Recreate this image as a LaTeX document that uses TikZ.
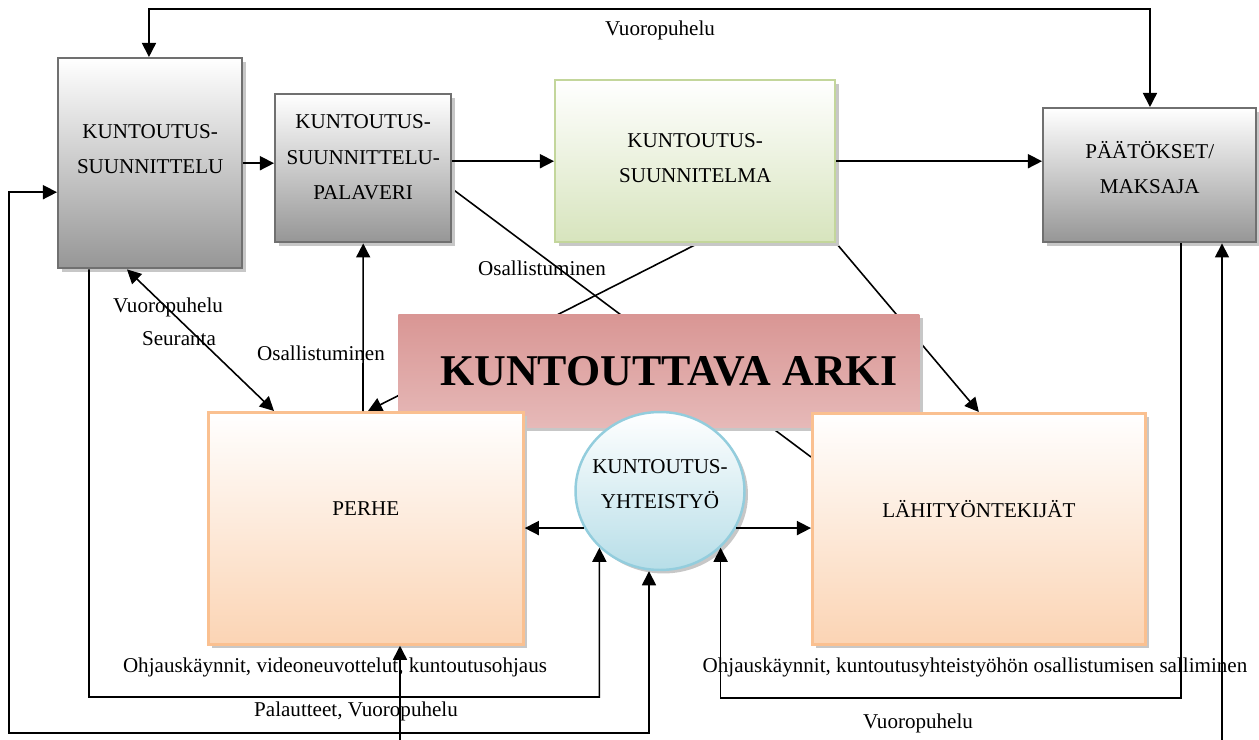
\documentclass[tikz,border=0pt]{standalone}
\usepackage{fontspec}
\setmainfont{Liberation Serif}
\usetikzlibrary{arrows.meta,shapes.geometric,shadows,backgrounds}

\definecolor{grayEdge}{HTML}{707070}
\definecolor{grayBottom}{HTML}{969696}
\definecolor{greenEdge}{HTML}{C3D69B}
\definecolor{greenBottom}{HTML}{D7E4BD}
\definecolor{arkiTop}{HTML}{D99694}
\definecolor{arkiBottom}{HTML}{E6B9B8}
\definecolor{famEdge}{HTML}{FAC090}
\definecolor{famBottom}{HTML}{FBD4B4}
\definecolor{coopEdge}{HTML}{93CDDD}
\definecolor{coopBottom}{HTML}{B7DEE8}

\begin{document}
\begin{tikzpicture}[x=0.02cm,y=-0.02cm,
  >={Triangle[length=8pt,width=8pt]},
  conn/.style={line width=0.9pt},
  boxShadow/.style={drop shadow={shadow xshift=0.07cm,shadow yshift=-0.07cm,fill=black!22,opacity=1}},
  grayBox/.style={rectangle,anchor=north west,draw=grayEdge,line width=1.4pt,top color=white,bottom color=grayBottom,boxShadow},
  greenBox/.style={rectangle,anchor=north west,draw=greenEdge,line width=1.4pt,top color=white,bottom color=greenBottom,boxShadow},
  arkiBox/.style={rectangle,anchor=north west,top color=arkiTop,bottom color=arkiBottom,boxShadow},
  famBox/.style={rectangle,anchor=north west,draw=famEdge,line width=1.6pt,top color=white,bottom color=famBottom,boxShadow},
  coopBall/.style={ellipse,draw=coopEdge,line width=1.4pt,top color=white,bottom color=coopBottom,boxShadow},
  boxText/.style={align=center,font=\fontsize{12}{20}\selectfont},
  lbl/.style={font=\fontsize{12}{14}\selectfont,inner sep=0pt}]
\useasboundingbox (0,0) rectangle (1259,740);

% boxes
\node[grayBox,minimum width=3.68cm,minimum height=4.2cm,
  label={[boxText,yshift=0.28cm]center:KUNTOUTUS-\\SUUNNITTELU}] (plan) at (57,57) {};
\node[grayBox,minimum width=3.52cm,minimum height=2.96cm,
  label={[boxText,yshift=0.22cm]center:KUNTOUTUS-\\SUUNNITTELU-\\PALAVERI}] (meeting) at (274,93) {};
\node[greenBox,minimum width=5.6cm,minimum height=3.24cm,
  label={[boxText,yshift=0.06cm]center:KUNTOUTUS-\\SUUNNITELMA}] (planDoc) at (554,79) {};
\node[grayBox,minimum width=4.26cm,minimum height=2.68cm,
  label={[boxText,yshift=0.16cm]center:PÄÄTÖKSET/\\MAKSAJA}] (payer) at (1042,107) {};
\node[arkiBox,minimum width=10.42cm,minimum height=2.26cm,
  font=\fontsize{25}{29}\selectfont\bfseries] (arki) at (398,314) {\hspace{0.4cm}KUNTOUTTAVA ARKI};
\node[famBox,minimum width=6.3cm,minimum height=4.64cm,
  label={[boxText,yshift=0.4cm]center:PERHE}] (family) at (207,411) {};
\node[famBox,minimum width=6.66cm,minimum height=4.62cm,
  label={[boxText,yshift=0.4cm]center:LÄHITYÖNTEKIJÄT}] (workers) at (811,412) {};
\node[coopBall,minimum width=3.38cm,minimum height=3.16cm,
  label={[boxText,yshift=0.14cm]center:KUNTOUTUS-\\YHTEISTYÖ}] (coop) at (660,491) {};

% bends and free ends
\coordinate (topBend) at (660,9);
\coordinate (outerBend) at (9,733);
\coordinate (innerBend) at (89,697);
\coordinate (rightBend) at (1181,698);
\coordinate (famIn) at (400,740);
\coordinate (payIn) at (1222,740);

% main flow
\draw[conn,<->] ([xshift=1.84cm]plan.north west) |- (topBend) -| ([xshift=2.16cm]payer.north west);
\draw[conn,->] (plan.east) -- (plan.east -| meeting.west);
\draw[conn,->] (planDoc.west -| meeting.east) -- (planDoc.west);
\draw[conn,->] (planDoc.east) -- (planDoc.east -| payer.west);

% under the arki box
\begin{scope}[on background layer]
\draw[conn,->] ([xshift=2.88cm]planDoc.south west) -- ([xshift=3.22cm]family.north west);
\draw[conn] ([yshift=-1.92cm]meeting.north east) -- ([yshift=-0.9cm]workers.north west);
\draw[conn,->] (planDoc.south east) -- (workers.north);
\end{scope}

\draw[conn,<->] ([xshift=1.4cm]plan.south west) -- ([xshift=1.34cm]family.north west);
\draw[conn,->] ([xshift=3.12cm]family.north west) -- (meeting.south);
\draw[conn,->] (coop.206) -- (coop.206 -| family.east);
\draw[conn,->] (coop.334) -- (coop.334 -| workers.west);

% loops round the bottom
\draw[conn,<->] ([yshift=-0.58cm]plan.west) -| (outerBend) -| ([xshift=-0.22cm]coop.south);
\draw[conn,->] ([xshift=0.64cm]plan.south west) -- (innerBend) -| (coop.south west);
\draw[conn,->] (rightBend |- payer.south) -- (rightBend) -| (coop.south east);
\draw[conn,->] (famIn) -- (famIn |- family.south);
\draw[conn,->] (payIn) -- (payIn |- payer.south);

% texts on the connectors
\node[lbl] (talkTop) at (660,30) {Vuoropuhelu};
\node[lbl] (talkFam) at (168,307) {Vuoropuhelu};
\node[lbl] (follow) at (179,339) {Seuranta};
\node[lbl] (partFam) at (321,353) {Osallistuminen};
\node[lbl] (partDoc) at (542,268) {Osallistuminen};
\node[lbl] (guideFam) at (335,667) {Ohjauskäynnit, videoneuvottelut, kuntoutusohjaus};
\node[lbl] (feedback) at (356,711) {Palautteet, Vuoropuhelu};
\node[lbl] (guideWork) at (975,667) {Ohjauskäynnit, kuntoutusyhteistyöhön osallistumisen salliminen};
\node[lbl] (talkWork) at (918,723) {Vuoropuhelu};
\end{tikzpicture}
\end{document}
